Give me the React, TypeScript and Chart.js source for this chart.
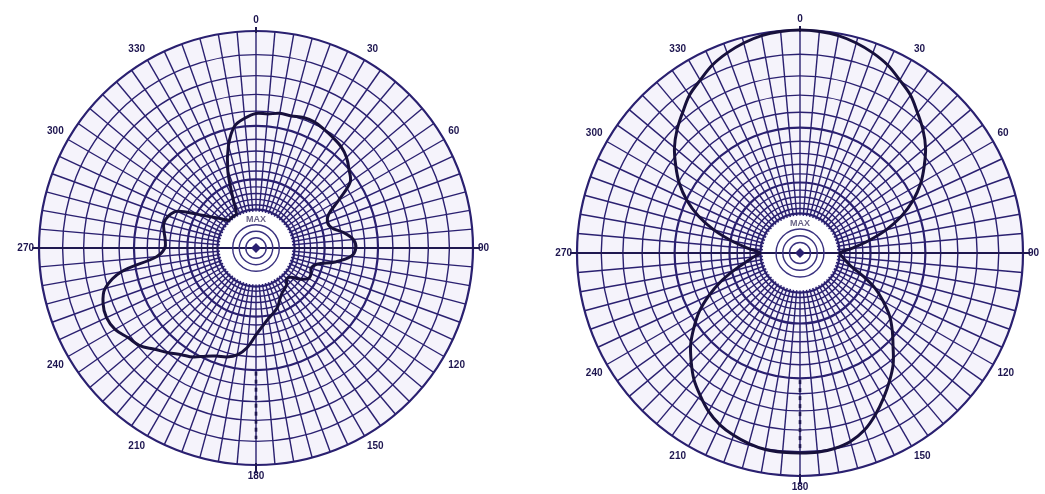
import React, { useEffect, useRef } from 'react';
import { Chart, registerables } from 'chart.js';

Chart.register(...registerables);

// Bearing of every spoke, degrees (0 = top, clockwise)
const ANGLES = [
  0, 5, 10, 15, 20, 25, 30, 35, 40, 45, 50, 55, 60, 65, 70, 75, 80, 85,
  90, 95, 100, 105, 110, 115, 120, 125, 130, 135, 140, 145, 150, 155, 160, 165, 170, 175,
  180, 185, 190, 195, 200, 205, 210, 215, 220, 225, 230, 235, 240, 245, 250, 255, 260, 265,
  270, 275, 280, 285, 290, 295, 300, 305, 310, 315, 320, 325, 330, 335, 340, 345, 350, 355,
];

// Bearings that carry a label
const LABELED_ANGLES = [0, 30, 60, 90, 120, 150, 180, 210, 240, 270, 300, 330];

// Grid rings in dB (relative field strength rings)
const DB_RINGS = [0, -1, -2, -3, -4, -5, -6, -7, -8, -9, -10, -11, -12, -13, -14, -15];
const BOLD_RINGS = [0, -5, -10, -15];
const HOLE_DB = -15.5;

// Relative field strength (0..1), one value per 5 degrees
const LEFT_PATTERN = [
  0.62, 0.62, 0.63, 0.63, 0.64, 0.64, 0.63, 0.62, 0.61, 0.59, 0.56, 0.53,
  0.44, 0.37, 0.35, 0.36, 0.41, 0.45, 0.46, 0.44, 0.37, 0.29, 0.27, 0.28,
  0.28, 0.25, 0.21, 0.2, 0.22, 0.23, 0.24, 0.26, 0.29, 0.31, 0.33, 0.36,
  0.4, 0.46, 0.5, 0.52, 0.53, 0.55, 0.58, 0.6, 0.63, 0.66, 0.7, 0.72,
  0.75, 0.76, 0.75, 0.72, 0.63, 0.46, 0.42, 0.42, 0.43, 0.44, 0.43, 0.4,
  0.31, 0.25, 0.21, 0.18, 0.18, 0.18, 0.18, 0.25, 0.38, 0.49, 0.57, 0.6,
];

const RIGHT_PATTERN = [
  1.0, 0.997, 0.99, 0.975, 0.955, 0.93, 0.895, 0.864, 0.82, 0.78, 0.735, 0.68,
  0.625, 0.56, 0.485, 0.4, 0.31, 0.23, 0.18, 0.19, 0.21, 0.24, 0.3, 0.37,
  0.43, 0.49, 0.54, 0.59, 0.65, 0.7, 0.75, 0.8, 0.845, 0.875, 0.89, 0.897,
  0.897, 0.897, 0.895, 0.885, 0.87, 0.85, 0.82, 0.78, 0.74, 0.69, 0.64, 0.58,
  0.52, 0.45, 0.38, 0.31, 0.25, 0.21, 0.18, 0.23, 0.31, 0.4, 0.485, 0.56,
  0.625, 0.68, 0.735, 0.78, 0.82, 0.864, 0.895, 0.93, 0.955, 0.975, 0.99, 0.997,
];

const INK = '#2a2070';
const TRACE = '#17103c';

const dbToField = (d: number) => Math.pow(10, d / 20);

const decorPlugin = {
  id: 'decor',
  beforeDatasetsDraw(chart: any) {
    const s = chart.scales.r;
    const ctx = chart.ctx as CanvasRenderingContext2D;
    const cx = s.xCenter;
    const cy = s.yCenter;
    const R = s.drawingArea;
    const hole = s.getDistanceFromCenterForValue(dbToField(HOLE_DB));
    ctx.save();
    // centre hole
    ctx.fillStyle = '#ffffff';
    ctx.beginPath();
    ctx.arc(cx, cy, hole, 0, Math.PI * 2);
    ctx.fill();
    // main axis lines
    ctx.strokeStyle = '#1f1850';
    ctx.lineWidth = 2;
    ctx.beginPath();
    ctx.moveTo(cx - R - 7, cy);
    ctx.lineTo(cx + R + 7, cy);
    ctx.moveTo(cx, cy - R - 4);
    ctx.lineTo(cx, cy - R + 2);
    ctx.moveTo(cx, cy + R - 2);
    ctx.lineTo(cx, cy + R + 8);
    ctx.stroke();
    // target in the hole
    ctx.strokeStyle = '#3a3280';
    ctx.lineWidth = 1.4;
    [0.28, 0.46, 0.64].forEach((f) => {
      ctx.beginPath();
      ctx.arc(cx, cy, hole * f, 0, Math.PI * 2);
      ctx.stroke();
    });
    ctx.fillStyle = '#2a2070';
    ctx.beginPath();
    ctx.moveTo(cx, cy - 5);
    ctx.lineTo(cx + 5, cy);
    ctx.lineTo(cx, cy + 5);
    ctx.lineTo(cx - 5, cy);
    ctx.closePath();
    ctx.fill();
    ctx.fillStyle = '#6a6488';
    ctx.font = 'bold 9px "Liberation Sans", sans-serif';
    ctx.textAlign = 'center';
    ctx.textBaseline = 'middle';
    ctx.fillText('MAX', cx, cy - hole * 0.78);
    // dashed dB scale along the 180 spoke
    ctx.strokeStyle = '#1f1850';
    ctx.lineWidth = 2.6;
    ctx.setLineDash([4, 4]);
    ctx.beginPath();
    ctx.moveTo(cx, cy + s.getDistanceFromCenterForValue(0.57));
    ctx.lineTo(cx, cy + s.getDistanceFromCenterForValue(0.88));
    ctx.stroke();
    ctx.restore();
  },
};

type PolarProps = {
  pattern: number[];
  style: React.CSSProperties;
  padding: { top: number; bottom: number; left: number; right: number };
};

function PolarPattern({ pattern, style, padding }: PolarProps) {
  const ref = useRef<HTMLCanvasElement | null>(null);
  useEffect(() => {
    if (!ref.current) return;
    const chart = new Chart(ref.current, {
      type: 'radar',
      data: {
        labels: ANGLES.map(String),
        datasets: [
          {
            data: pattern,
            borderColor: TRACE,
            borderWidth: 3,
            fill: false,
            pointRadius: 0,
            pointHoverRadius: 0,
            tension: 0.35,
          },
        ],
      },
      options: {
        animation: false,
        responsive: true,
        maintainAspectRatio: false,
        layout: { padding },
        plugins: { legend: { display: false }, tooltip: { enabled: false } },
        scales: {
          r: {
            min: 0,
            max: 1,
            startAngle: 0,
            backgroundColor: '#f5f3fb',
            afterBuildTicks: (scale: any) => {
              scale.ticks = [{ value: 0 }, ...DB_RINGS.map((d) => ({ value: dbToField(d) }))];
            },
            ticks: { display: false },
            grid: {
              circular: true,
              color: INK,
              lineWidth: (c: any) => {
                const d = DB_RINGS[c.index - 1];
                return BOLD_RINGS.includes(d) ? 2.2 : 1.4;
              },
            },
            angleLines: {
              display: true,
              color: INK,
              lineWidth: 1.4,
            },
            pointLabels: {
              display: true,
              padding: 5,
              color: '#1e1650',
              font: { family: '"Liberation Sans", sans-serif', size: 10, weight: 'bold' },
              callback: (label: string) => (LABELED_ANGLES.includes(Number(label)) ? label : ''),
            },
          },
        },
      },
      plugins: [decorPlugin],
    } as any);
    return () => chart.destroy();
  }, [pattern, padding]);
  return (
    <div style={{ position: 'absolute', ...style }}>
      <canvas ref={ref} />
    </div>
  );
}

const LEFT_PAD = { top: 14, bottom: 12, left: 0, right: 8 };
const RIGHT_PAD = { top: 13, bottom: 1, left: 10, right: 0 };

export default function App() {
  return (
    <div style={{ position: 'absolute', left: 0, top: 0, width: 1045, height: 494, background: '#ffffff' }}>
      <PolarPattern pattern={LEFT_PATTERN} padding={LEFT_PAD} style={{ left: 0, top: 0, width: 520, height: 494 }} />
      <PolarPattern pattern={RIGHT_PATTERN} padding={RIGHT_PAD} style={{ left: 540, top: 0, width: 505, height: 494 }} />
    </div>
  );
}
